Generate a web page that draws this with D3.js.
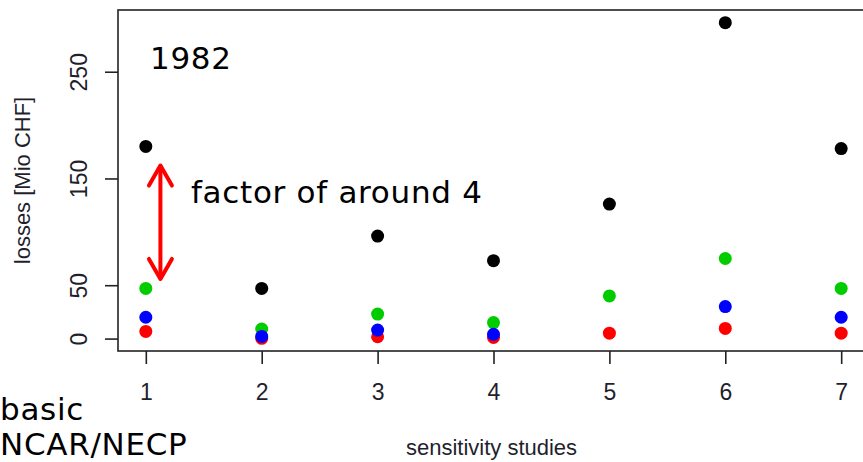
<!DOCTYPE html>
<html>
<head>
<meta charset="utf-8">
<script src="https://cdn.jsdelivr.net/npm/d3@7"></script>
<style>
  body { margin: 0; background: #fff; }
  .axis text { font-family: "Liberation Sans", Arial, sans-serif; fill: #1f1f2e; }
  .note { font-family: "DejaVu Sans", Verdana, sans-serif; fill: #000; letter-spacing: 0.7px; }
</style>
</head>
<body>
<div id="chart"></div>
<script>
// sensitivity study number on x, losses in Mio CHF on y
var studies = [1, 2, 3, 4, 5, 6, 7];
var blackLosses = [180, 47, 96, 73, 126, 296, 178];
var greenLosses = [47, 9, 23, 15, 40, 75, 47];
var redLosses = [6.7, 0.2, 1.7, 1.1, 5.1, 9.5, 5.1];
var blueLosses = [20, 2, 8, 4, null, 30, 20];   // no blue point visible for study 5
var yTicks = [0, 50, 150, 250];
// double arrow between the two groups for study 1
var arrowX = 1.126;
var arrowFrom = 164;
var arrowTo = 54;

var width = 863, height = 462;
var margin = {top: 10, left: 118, bottom: 111};
var plotRight = 869;

var series = [
    {name: 'black', color: '#000000', values: blackLosses},
    {name: 'green', color: '#00cc00', values: greenLosses},
    {name: 'red', color: '#ff0000', values: redLosses},
    {name: 'blue', color: '#0000ff', values: blueLosses}
];

var allValues = [];
series.forEach(function(s) {
    s.values.forEach(function(v) { if (v != null) allValues.push(v); });
});

// R style axis range: data extent plus 4 % on each side
var yExt = d3.extent(allValues);
var yPad = (yExt[1] - yExt[0]) * 0.04;
var xExt = d3.extent(studies);
var xPad = (xExt[1] - xExt[0]) * 0.04;

var x = d3.scaleLinear()
    .domain([xExt[0] - xPad, xExt[1] + xPad])
    .range([margin.left, plotRight]);

var y = d3.scaleLinear()
    .domain([yExt[0] - yPad, yExt[1] + yPad])
    .range([height - margin.bottom, margin.top]);

var svg = d3.select("#chart")
    .append("svg")
        .attr("width", width)
        .attr("height", height);

// open chevron head, pointing along the line
svg.append("defs").append("marker")
    .attr("id", "head")
    .attr("viewBox", "-3 -3 28 30")
    .attr("refX", 20)
    .attr("refY", 12)
    .attr("markerWidth", 28)
    .attr("markerHeight", 30)
    .attr("markerUnits", "userSpaceOnUse")
    .attr("orient", "auto-start-reverse")
  .append("path")
    .attr("d", "M0,0.5 L20,12 L0,23.5")
    .attr("fill", "none")
    .attr("stroke", "#ff0000")
    .attr("stroke-width", 4)
    .attr("stroke-linecap", "round")
    .attr("stroke-linejoin", "round");

// box
svg.append("rect")
    .attr("x", x.range()[0])
    .attr("y", y.range()[1])
    .attr("width", x.range()[1] - x.range()[0])
    .attr("height", y.range()[0] - y.range()[1])
    .attr("fill", "none")
    .attr("stroke", "#222")
    .attr("stroke-width", 1.6);

var xAxis = svg.append("g")
    .attr("class", "axis")
    .attr("transform", "translate(0," + y.range()[0] + ")")
    .call(d3.axisBottom(x).tickValues(studies).tickFormat(d3.format("d")).tickSize(13).tickPadding(20));
xAxis.select(".domain").remove();
xAxis.selectAll("line").attr("stroke", "#222").attr("stroke-width", 1.6);
xAxis.selectAll("text").style("font-size", "23px");

var yAxis = svg.append("g")
    .attr("class", "axis")
    .attr("transform", "translate(" + x.range()[0] + ",0)")
    .call(d3.axisLeft(y).tickValues(yTicks).tickSize(13).tickPadding(0));
yAxis.select(".domain").remove();
yAxis.selectAll("line").attr("stroke", "#222").attr("stroke-width", 1.6);
yAxis.selectAll("text")
    .style("font-size", "23px")
    .attr("text-anchor", "middle")
    .attr("dy", null)
    .attr("transform", "translate(-31,0) rotate(-90)")
    .attr("x", 0)
    .attr("y", 0);

svg.append("text")
    .attr("transform", "translate(30," + (margin.top + y.range()[0]) / 2 + ") rotate(-90)")
    .attr("text-anchor", "middle")
    .style("font-family", "Liberation Sans, Arial, sans-serif")
    .style("font-size", "22px")
    .attr("fill", "#1f1f2e")
    .text("losses [Mio CHF]");

svg.append("text")
    .attr("x", (x.range()[0] + x.range()[1]) / 2 - 2)
    .attr("y", 455)
    .attr("text-anchor", "middle")
    .style("font-family", "Liberation Sans, Arial, sans-serif")
    .style("font-size", "22px")
    .attr("fill", "#1f1f2e")
    .text("sensitivity studies");

// points, drawn black, green, red, blue
series.forEach(function(s) {
    svg.append("g")
        .attr("fill", s.color)
      .selectAll("circle")
      .data(studies.map(function(d, i) { return {study: d, value: s.values[i]}; })
                   .filter(function(d) { return d.value != null; }))
      .enter()
      .append("circle")
        .attr("cx", function(d) { return x(d.study); })
        .attr("cy", function(d) { return y(d.value); })
        .attr("r", 6.5);
});

svg.append("line")
    .attr("x1", x(arrowX))
    .attr("x2", x(arrowX))
    .attr("y1", y(arrowFrom) + 2)
    .attr("y2", y(arrowTo) - 2)
    .attr("stroke", "#ff0000")
    .attr("stroke-width", 4)
    .attr("marker-start", "url(#head)")
    .attr("marker-end", "url(#head)");

svg.append("text")
    .attr("class", "note")
    .attr("x", 150)
    .attr("y", 69)
    .style("font-size", "31px")
    .text("1982");

svg.append("text")
    .attr("class", "note")
    .attr("x", 191)
    .attr("y", 203)
    .style("font-size", "31px")
    .text("factor of around 4");

svg.append("text")
    .attr("class", "note")
    .attr("x", 0)
    .attr("y", 420)
    .style("font-size", "31px")
    .text("basic");

svg.append("text")
    .attr("class", "note")
    .attr("x", 0)
    .attr("y", 455)
    .style("font-size", "31px")
    .text("NCAR/NECP");
</script>
</body>
</html>
